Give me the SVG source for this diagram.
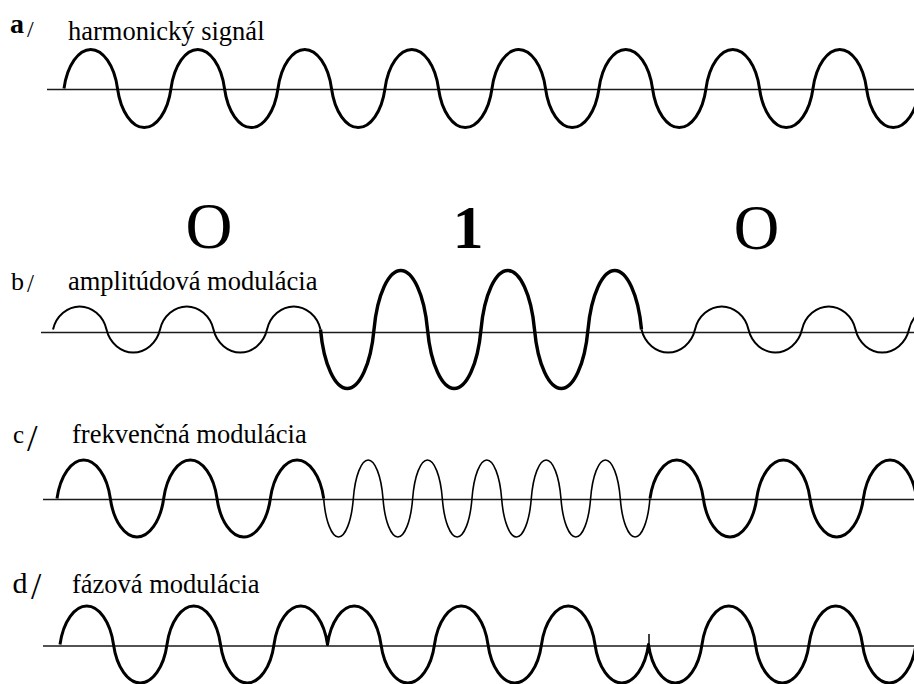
<svg xmlns="http://www.w3.org/2000/svg" width="914" height="684" viewBox="0 0 914 684">
<style>
.t{font-family:"Liberation Serif","Times New Roman",serif;fill:#000}
.lbl{font-size:26.5px}
.axis{stroke:#1a1a1a;stroke-width:1.3;fill:none}
.w{fill:none;stroke:#000;stroke-linejoin:round;stroke-linecap:butt}
.thick{stroke-width:3}
.thin{stroke-width:2}
.fast{stroke-width:1.6}
.big{stroke-width:3.4}
</style>
<rect width="914" height="684" fill="#fff"/>

<g id="panel-a">
<text class="t" x="10" y="33" font-size="28" font-weight="bold">a</text>
<text class="t" x="27" y="37" font-size="24">/</text>
<text class="t lbl" x="68" y="40">harmonický signál</text>
</g>

<g id="bits">
<text class="t" x="209" y="247.5" font-size="65" text-anchor="middle">O</text>
<text class="t" x="468" y="248" font-size="61.5" font-weight="bold" text-anchor="middle">1</text>
<text class="t" x="756.5" y="249" font-size="63" text-anchor="middle">O</text>
</g>

<g id="panel-b">
<text class="t" x="11" y="290" font-size="26">b</text>
<text class="t" x="27" y="292" font-size="25">/</text>
<text class="t lbl" x="68" y="290">amplitúdová modulácia</text>
</g>

<g id="panel-c">
<text class="t" x="13" y="443" font-size="25">c</text>
<text class="t" x="27" y="451" font-size="38">/</text>
<text class="t lbl" x="72" y="443">frekvenčná modulácia</text>
</g>

<g id="panel-d">
<text class="t" x="12.5" y="593" font-size="30">d</text>
<text class="t" x="31" y="599" font-size="37">/</text>
<text class="t lbl" x="72" y="593">fázová modulácia</text>
</g>

<g id="connectors">
<line class="axis" x1="47" y1="89.5" x2="914" y2="89.5"/>
<line class="axis" x1="41" y1="332.5" x2="914" y2="332.5"/>
<line class="axis" x1="43" y1="499.5" x2="914" y2="499.5"/>
<line class="axis" x1="43" y1="646" x2="914" y2="646"/>

<path id="wave-a" class="w thick" d="M64,88.5
c3.21,-23.4 14.71,-39 26.75,-39 c12.04,0 23.54,15.6 26.75,39 c3.21,23.4 14.71,39 26.75,39 c12.04,0 23.54,-15.6 26.75,-39
c3.21,-23.4 14.71,-39 26.75,-39 c12.04,0 23.54,15.6 26.75,39 c3.21,23.4 14.71,39 26.75,39 c12.04,0 23.54,-15.6 26.75,-39
c3.21,-23.4 14.71,-39 26.75,-39 c12.04,0 23.54,15.6 26.75,39 c3.21,23.4 14.71,39 26.75,39 c12.04,0 23.54,-15.6 26.75,-39
c3.21,-23.4 14.71,-39 26.75,-39 c12.04,0 23.54,15.6 26.75,39 c3.21,23.4 14.71,39 26.75,39 c12.04,0 23.54,-15.6 26.75,-39
c3.21,-23.4 14.71,-39 26.75,-39 c12.04,0 23.54,15.6 26.75,39 c3.21,23.4 14.71,39 26.75,39 c12.04,0 23.54,-15.6 26.75,-39
c3.21,-23.4 14.71,-39 26.75,-39 c12.04,0 23.54,15.6 26.75,39 c3.21,23.4 14.71,39 26.75,39 c12.04,0 23.54,-15.6 26.75,-39
c3.21,-23.4 14.71,-39 26.75,-39 c12.04,0 23.54,15.6 26.75,39 c3.21,23.4 14.71,39 26.75,39 c12.04,0 23.54,-15.6 26.75,-39
c3.21,-23.4 14.71,-39 26.75,-39 c12.04,0 23.54,15.6 26.75,39 c3.21,23.4 14.71,39 26.75,39 c12.04,0 23.54,-15.6 26.75,-39"/>

<path id="wave-b1" class="w thin" d="M53,329.5
c3.21,-13.8 14.71,-23 26.75,-23 c12.04,0 23.54,9.2 26.75,23 c3.21,13.8 14.71,23 26.75,23 c12.04,0 23.54,-9.2 26.75,-23
c3.21,-13.8 14.71,-23 26.75,-23 c12.04,0 23.54,9.2 26.75,23 c3.21,13.8 14.71,23 26.75,23 c12.04,0 23.54,-9.2 26.75,-23
c3.21,-13.8 14.71,-23 26.75,-23 c12.04,0 23.54,9.2 26.75,23"/>
<path id="wave-b2" class="w big" d="M320.5,329.5
c3.21,35.4 14.71,59 26.75,59 c12.04,0 23.54,-23.6 26.75,-59 c3.21,-35.4 14.71,-59 26.75,-59 c12.04,0 23.54,23.6 26.75,59
c3.21,35.4 14.71,59 26.75,59 c12.04,0 23.54,-23.6 26.75,-59 c3.21,-35.4 14.71,-59 26.75,-59 c12.04,0 23.54,23.6 26.75,59
c3.21,35.4 14.71,59 26.75,59 c12.04,0 23.54,-23.6 26.75,-59 c3.21,-35.4 14.71,-59 26.75,-59 c12.04,0 23.54,23.6 26.75,59"/>
<path id="wave-b3" class="w thin" d="M641.5,329.5
c3.21,13.8 14.71,23 26.75,23 c12.04,0 23.54,-9.2 26.75,-23 c3.21,-13.8 14.71,-23 26.75,-23 c12.04,0 23.54,9.2 26.75,23
c3.21,13.8 14.71,23 26.75,23 c12.04,0 23.54,-9.2 26.75,-23 c3.21,-13.8 14.71,-23 26.75,-23 c12.04,0 23.54,9.2 26.75,23
c3.21,13.8 14.71,23 26.75,23 c12.04,0 23.54,-9.2 26.75,-23 c3.21,-13.8 14.71,-23 26.75,-23 c12.04,0 23.54,9.2 26.75,23"/>

<path id="wave-c1" class="w thick" d="M57,498.5
c3.2,-23.1 14.67,-38.5 26.67,-38.5 c12,0 23.47,15.4 26.67,38.5 c3.2,23.1 14.67,38.5 26.67,38.5 c12,0 23.47,-15.4 26.67,-38.5
c3.2,-23.1 14.67,-38.5 26.67,-38.5 c12,0 23.47,15.4 26.67,38.5 c3.2,23.1 14.67,38.5 26.67,38.5 c12,0 23.47,-15.4 26.67,-38.5
c3.2,-23.1 14.67,-38.5 26.67,-38.5 c12,0 23.47,15.4 26.67,38.5"/>
<path id="wave-c2" class="w fast" d="M323.67,498.5
c1.78,23.1 8.16,38.5 14.83,38.5 c6.67,0 13.05,-15.4 14.83,-38.5 c1.78,-23.1 8.16,-38.5 14.83,-38.5 c6.67,0 13.05,15.4 14.83,38.5
c1.78,23.1 8.16,38.5 14.83,38.5 c6.67,0 13.05,-15.4 14.83,-38.5 c1.78,-23.1 8.16,-38.5 14.83,-38.5 c6.67,0 13.05,15.4 14.83,38.5
c1.78,23.1 8.16,38.5 14.83,38.5 c6.67,0 13.05,-15.4 14.83,-38.5 c1.78,-23.1 8.16,-38.5 14.83,-38.5 c6.67,0 13.05,15.4 14.83,38.5
c1.78,23.1 8.16,38.5 14.83,38.5 c6.67,0 13.05,-15.4 14.83,-38.5 c1.78,-23.1 8.16,-38.5 14.83,-38.5 c6.67,0 13.05,15.4 14.83,38.5
c1.78,23.1 8.16,38.5 14.83,38.5 c6.67,0 13.05,-15.4 14.83,-38.5 c1.78,-23.1 8.16,-38.5 14.83,-38.5 c6.67,0 13.05,15.4 14.83,38.5
c1.78,23.1 8.16,38.5 14.83,38.5 c6.67,0 13.05,-15.4 14.83,-38.5"/>
<path id="wave-c3" class="w thick" d="M650,498.5
c3.2,-23.1 14.67,-38.5 26.67,-38.5 c12,0 23.47,15.4 26.67,38.5 c3.2,23.1 14.67,38.5 26.67,38.5 c12,0 23.47,-15.4 26.67,-38.5
c3.2,-23.1 14.67,-38.5 26.67,-38.5 c12,0 23.47,15.4 26.67,38.5 c3.2,23.1 14.67,38.5 26.67,38.5 c12,0 23.47,-15.4 26.67,-38.5
c3.2,-23.1 14.67,-38.5 26.67,-38.5 c12,0 23.47,15.4 26.67,38.5"/>

<path id="wave-d" class="w thick" d="M60,644.5
c3.21,-23.1 14.71,-38.5 26.75,-38.5 c12.04,0 23.54,15.4 26.75,38.5 c3.21,23.1 14.71,38.5 26.75,38.5 c12.04,0 23.54,-15.4 26.75,-38.5
c3.21,-23.1 14.71,-38.5 26.75,-38.5 c12.04,0 23.54,15.4 26.75,38.5 c3.21,23.1 14.71,38.5 26.75,38.5 c12.04,0 23.54,-15.4 26.75,-38.5
c3.21,-23.1 14.71,-38.5 26.75,-38.5 c12.04,0 23.54,15.4 26.75,38.5
c3.21,-23.1 14.71,-38.5 26.75,-38.5 c12.04,0 23.54,15.4 26.75,38.5 c3.21,23.1 14.71,38.5 26.75,38.5 c12.04,0 23.54,-15.4 26.75,-38.5
c3.21,-23.1 14.71,-38.5 26.75,-38.5 c12.04,0 23.54,15.4 26.75,38.5 c3.21,23.1 14.71,38.5 26.75,38.5 c12.04,0 23.54,-15.4 26.75,-38.5
c3.21,-23.1 14.71,-38.5 26.75,-38.5 c12.04,0 23.54,15.4 26.75,38.5 c3.21,23.1 14.71,38.5 26.75,38.5 c12.04,0 23.54,-15.4 26.75,-38.5
c3.21,23.1 14.71,38.5 26.75,38.5 c12.04,0 23.54,-15.4 26.75,-38.5 c3.21,-23.1 14.71,-38.5 26.75,-38.5 c12.04,0 23.54,15.4 26.75,38.5
c3.21,23.1 14.71,38.5 26.75,38.5 c12.04,0 23.54,-15.4 26.75,-38.5 c3.21,-23.1 14.71,-38.5 26.75,-38.5 c12.04,0 23.54,15.4 26.75,38.5
c3.21,23.1 14.71,38.5 26.75,38.5 c12.04,0 23.54,-15.4 26.75,-38.5"/>
<path id="tick-d" class="w" stroke-width="1.5" d="M649,634 V645"/>
</g>
</svg>
